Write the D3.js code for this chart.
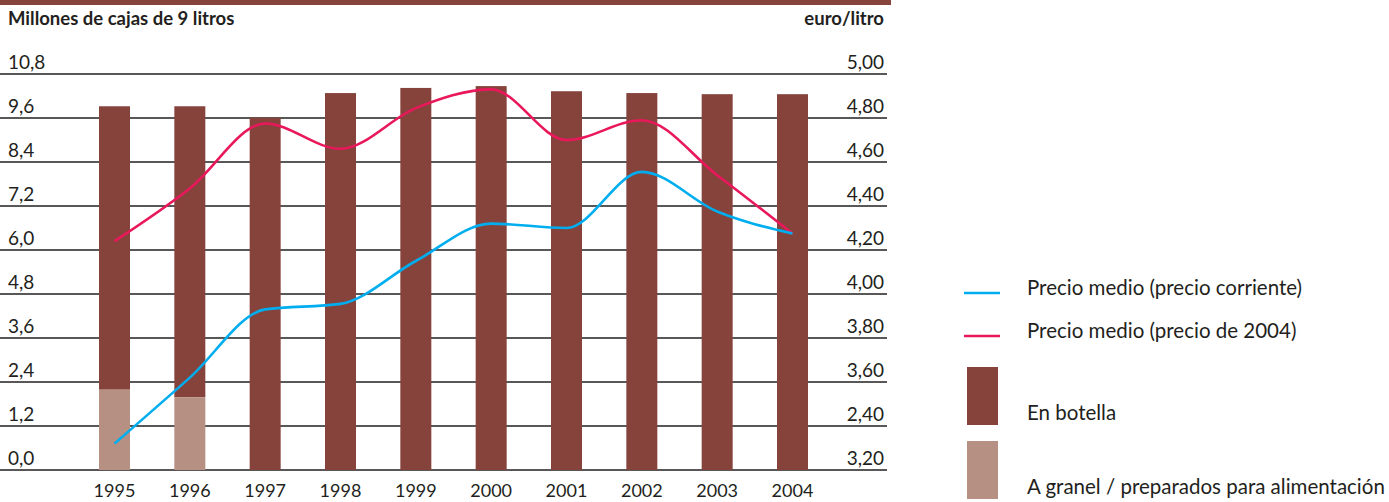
<!DOCTYPE html>
<html>
<head>
<meta charset="utf-8">
<script src="https://cdn.jsdelivr.net/npm/d3@7"></script>
<style>
  body { margin: 0; background: #fff; }
  svg { display: block; font-family: Lato, "Open Sans", sans-serif; }
</style>
</head>
<body>
<svg width="1389" height="502"></svg>
<script>
// data
var years = ["1995", "1996", "1997", "1998", "1999", "2000", "2001", "2002", "2003", "2004"];
var botella = [7.73, 7.94, 9.61, 10.28, 10.42, 10.47, 10.33, 10.28, 10.25, 10.25];
var granel = [2.19, 1.98, 0, 0, 0, 0, 0, 0, 0, 0];
var precioCorriente = [3.32, 3.62, 3.93, 3.955, 4.15, 4.32, 4.30, 4.555, 4.375, 4.275];
var precio2004 = [4.24, 4.48, 4.775, 4.66, 4.845, 4.93, 4.70, 4.79, 4.54, 4.275];

var leftTicks = [0, 1.2, 2.4, 3.6, 4.8, 6.0, 7.2, 8.4, 9.6, 10.8];
var leftLabels = ["0,0", "1,2", "2,4", "3,6", "4,8", "6,0", "7,2", "8,4", "9,6", "10,8"];
// the source prints "2,40" where 3,40 would be expected; kept as printed
var rightLabels = ["3,20", "2,40", "3,60", "3,80", "4,00", "4,20", "4,40", "4,60", "4,80", "5,00"];

var legendItems = [
  {type: "line", color: "#00aeef", label: "Precio medio (precio corriente)"},
  {type: "line", color: "#e8185a", label: "Precio medio (precio de 2004)"},
  {type: "rect", color: "#86433c", label: "En botella"},
  {type: "rect", color: "#b79084", label: "A granel / preparados para alimentación"}
];

var svg = d3.select("svg"),
    plotLeft = 0,
    plotRight = 887,
    plotTop = 74,
    plotBottom = 470,
    barWidth = 31;

var x = d3.scalePoint().domain(years).range([114.5, 792.5]),
    yLeft = d3.scaleLinear().domain([0, 10.8]).range([plotBottom, plotTop]),
    yRight = d3.scaleLinear().domain([3.2, 5.0]).range([plotBottom, plotTop]);

// top band
svg.append("rect")
    .attr("x", 0).attr("y", 0)
    .attr("width", 891).attr("height", 5)
    .attr("fill", "#86433c");

svg.append("text")
    .attr("x", 8).attr("y", 25)
    .attr("font-size", 18.5).attr("font-weight", "bold")
    .attr("fill", "#231f20")
    .text("Millones de cajas de 9 litros");

svg.append("text")
    .attr("x", 884).attr("y", 25)
    .attr("text-anchor", "end")
    .attr("font-size", 18.5).attr("font-weight", "bold")
    .attr("fill", "#231f20")
    .text("euro/litro");

// gridlines + tick labels
var grid = svg.append("g");
leftTicks.forEach(function(t, i) {
  var yy = yLeft(t);
  grid.append("line")
      .attr("x1", plotLeft).attr("x2", plotRight)
      .attr("y1", yy).attr("y2", yy)
      .attr("stroke", "#231f20").attr("stroke-width", 1.6);
  grid.append("text")
      .attr("x", 8).attr("y", yy - 5)
      .attr("font-size", 19).attr("fill", "#231f20")
      .text(leftLabels[i]);
  grid.append("text")
      .attr("x", 884).attr("y", yy - 5)
      .attr("text-anchor", "end")
      .attr("font-size", 19).attr("fill", "#231f20")
      .text(rightLabels[i]);
});

// stacked bars
var bars = svg.append("g");
years.forEach(function(yr, i) {
  var g0 = granel[i], total = g0 + botella[i];
  bars.append("rect")
      .attr("x", x(yr) - barWidth / 2)
      .attr("width", barWidth)
      .attr("y", yLeft(total))
      .attr("height", yLeft(g0) - yLeft(total))
      .attr("fill", legendItems[2].color);
  if (g0 > 0) {
    bars.append("rect")
        .attr("x", x(yr) - barWidth / 2)
        .attr("width", barWidth)
        .attr("y", yLeft(g0))
        .attr("height", yLeft(0) - yLeft(g0))
        .attr("fill", legendItems[3].color);
  }
});

// year labels
svg.append("g").selectAll("text")
    .data(years)
  .enter().append("text")
    .attr("x", function(d) { return x(d); })
    .attr("y", 497)
    .attr("text-anchor", "middle")
    .attr("font-size", 18).attr("fill", "#231f20")
    .text(function(d) { return d; });

// price lines
var line = d3.line()
    .curve(d3.curveMonotoneX)
    .x(function(d, i) { return x(years[i]); })
    .y(function(d) { return yRight(d); });

svg.append("path")
    .datum(precio2004)
    .attr("d", line)
    .attr("fill", "none")
    .attr("stroke", legendItems[1].color)
    .attr("stroke-width", 2.6);

svg.append("path")
    .datum(precioCorriente)
    .attr("d", line)
    .attr("fill", "none")
    .attr("stroke", legendItems[0].color)
    .attr("stroke-width", 2.6);

// legend
var legendY = [293, 336, 367, 441],
    labelY = [295, 338, 420, 494];
var legend = svg.append("g");
legendItems.forEach(function(d, i) {
  if (d.type === "line") {
    legend.append("line")
        .attr("x1", 964).attr("x2", 1000)
        .attr("y1", legendY[i]).attr("y2", legendY[i])
        .attr("stroke", d.color).attr("stroke-width", 2.6);
  } else {
    legend.append("rect")
        .attr("x", 967).attr("y", legendY[i])
        .attr("width", 31).attr("height", 58)
        .attr("fill", d.color);
  }
  legend.append("text")
      .attr("x", 1027).attr("y", labelY[i])
      .attr("font-size", 20.5).attr("fill", "#231f20")
      .text(d.label);
});
</script>
</body>
</html>
